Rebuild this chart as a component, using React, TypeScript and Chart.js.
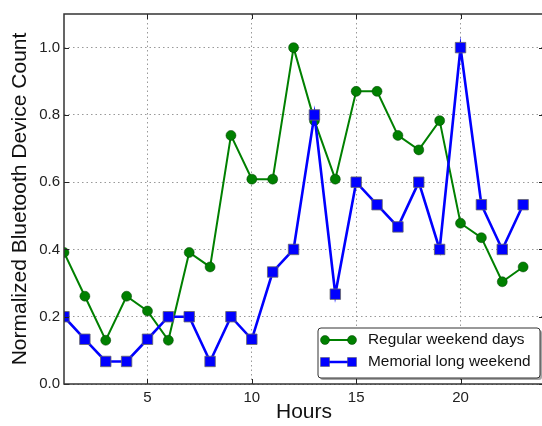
import React, { useEffect, useRef } from "react";
import { Chart, registerables } from "chart.js";

Chart.register(...registerables);

const hours = [1, 2, 3, 4, 5, 6, 7, 8, 9, 10, 11, 12, 13, 14, 15, 16, 17, 18, 19, 20, 21, 22, 23];
const regularWeekend = [0.391, 0.261, 0.13, 0.261, 0.217, 0.13, 0.391, 0.348, 0.739, 0.609, 0.609, 1.0, 0.783, 0.609, 0.87, 0.87, 0.739, 0.696, 0.783, 0.478, 0.435, 0.304, 0.348];
const memorialWeekend = [0.2, 0.133, 0.067, 0.067, 0.133, 0.2, 0.2, 0.067, 0.2, 0.133, 0.333, 0.4, 0.8, 0.267, 0.6, 0.533, 0.467, 0.6, 0.4, 1.0, 0.533, 0.4, 0.533];
const xTicks = [5, 10, 15, 20];
const yTicks = [0, 0.2, 0.4, 0.6, 0.8, 1.0];
const seriesNames = ["Regular weekend days", "Memorial long weekend"];

const FONT = "'Liberation Sans', Arial, Helvetica, sans-serif";

const framePlugin = {
  id: "frameAndLegend",
  afterDatasetsDraw(chart: any) {
    const { ctx, chartArea } = chart;
    const { left, right, top, bottom } = chartArea;
    ctx.save();
    ctx.strokeStyle = "#222";
    ctx.lineWidth = 1;
    const xs = chart.scales.x;
    const ys = chart.scales.y;
    ctx.beginPath();
    xTicks.forEach((t) => {
      const px = Math.round(xs.getPixelForValue(t)) + 0.5;
      ctx.moveTo(px, bottom);
      ctx.lineTo(px, bottom - 5);
      ctx.moveTo(px, top);
      ctx.lineTo(px, top + 5);
    });
    yTicks.forEach((t) => {
      const py = Math.round(ys.getPixelForValue(t)) + 0.5;
      ctx.moveTo(left, py);
      ctx.lineTo(left + 5, py);
      ctx.moveTo(right, py);
      ctx.lineTo(right - 5, py);
    });
    ctx.stroke();
    ctx.strokeStyle = "#333";
    ctx.lineWidth = 1.5;
    ctx.strokeRect(left, top, right - left, bottom - top);

    // legend
    const bx = 318, by = 328, bw = 222, bh = 50;
    const rr = (x: number, y: number, w: number, h: number, r: number) => {
      ctx.beginPath();
      ctx.moveTo(x + r, y);
      ctx.lineTo(x + w - r, y);
      ctx.quadraticCurveTo(x + w, y, x + w, y + r);
      ctx.lineTo(x + w, y + h - r);
      ctx.quadraticCurveTo(x + w, y + h, x + w - r, y + h);
      ctx.lineTo(x + r, y + h);
      ctx.quadraticCurveTo(x, y + h, x, y + h - r);
      ctx.lineTo(x, y + r);
      ctx.quadraticCurveTo(x, y, x + r, y);
      ctx.closePath();
    };
    ctx.fillStyle = "rgba(0,0,0,0.35)";
    rr(bx + 2, by + 2, bw, bh, 3);
    ctx.fill();
    ctx.fillStyle = "#fff";
    rr(bx, by, bw, bh, 3);
    ctx.fill();
    ctx.strokeStyle = "#333";
    ctx.lineWidth = 1;
    ctx.stroke();

    const rows = [
      { y: 340, color: "#008000", shape: "circle", lw: 2 },
      { y: 362, color: "#0000ff", shape: "rect", lw: 2.5 },
    ];
    rows.forEach((r, i) => {
      ctx.strokeStyle = r.color;
      ctx.lineWidth = r.lw;
      ctx.beginPath();
      ctx.moveTo(325, r.y);
      ctx.lineTo(352, r.y);
      ctx.stroke();
      [325, 352].forEach((mx) => {
        ctx.fillStyle = r.color;
        ctx.strokeStyle = r.shape === "circle" ? "#004000" : "#555";
        ctx.lineWidth = 0.5;
        ctx.beginPath();
        if (r.shape === "circle") ctx.arc(mx, r.y, 4.5, 0, Math.PI * 2);
        else ctx.rect(mx - 4.5, r.y - 4.5, 9, 9);
        ctx.fill();
        ctx.stroke();
      });
      ctx.fillStyle = "#111";
      ctx.font = `15.4px ${FONT}`;
      ctx.textBaseline = "middle";
      ctx.textAlign = "left";
      ctx.fillText(seriesNames[i], 368, r.y);
    });
    ctx.restore();
  },
};

export default function App() {
  const ref = useRef<HTMLCanvasElement | null>(null);
  useEffect(() => {
    if (!ref.current) return;
    const chart = new Chart(ref.current, {
      type: "line",
      data: {
        labels: hours,
        datasets: [
          {
            label: seriesNames[0],
            data: hours.map((h, i) => ({ x: h, y: regularWeekend[i] })),
            borderColor: "#008000",
            backgroundColor: "#008000",
            borderWidth: 2,
            pointStyle: "circle",
            pointRadius: 5,
            pointBorderColor: "#004000",
            pointBorderWidth: 0.5,
            pointBackgroundColor: "#008000",
            tension: 0,
            order: 1,
          },
          {
            label: seriesNames[1],
            data: hours.map((h, i) => ({ x: h, y: memorialWeekend[i] })),
            borderColor: "#0000ff",
            backgroundColor: "#0000ff",
            borderWidth: 2.6,
            pointStyle: "rect",
            pointRadius: 7.4,
            pointBorderColor: "#666",
            pointBorderWidth: 0.8,
            pointBackgroundColor: "#0000ff",
            tension: 0,
            order: 0,
          },
        ],
      },
      options: {
        animation: false,
        responsive: false,
        maintainAspectRatio: false,
        layout: { autoPadding: false, padding: { top: 14, left: 0, right: 0, bottom: 0 } },
        plugins: { legend: { display: false }, tooltip: { enabled: false } },
        scales: {
          x: {
            type: "linear",
            min: 1,
            max: 24,
            afterBuildTicks: (s: any) => {
              s.ticks = xTicks.map((v) => ({ value: v }));
            },
            afterFit: (s: any) => {
              s.height = 42;
              s.paddingLeft = 0;
              s.paddingRight = 0;
            },
            grid: { color: "#999", lineWidth: 1, drawTicks: false },
            border: { display: false, dash: [1.5, 3] },
            ticks: {
              padding: 5,
              color: "#222",
              font: { family: FONT, size: 15 },
              maxRotation: 0,
              callback: (v: any) => String(v),
            },
            title: {
              display: true,
              text: "Hours",
              color: "#111",
              font: { family: FONT, size: 21 },
              padding: { top: 0, bottom: 1 },
            },
          },
          y: {
            type: "linear",
            min: 0,
            max: 1.1,
            afterBuildTicks: (s: any) => {
              s.ticks = yTicks.map((v) => ({ value: v }));
            },
            afterFit: (s: any) => {
              s.width = 64;
              s.paddingTop = 0;
              s.paddingBottom = 0;
            },
            grid: { color: "#999", lineWidth: 1, drawTicks: false },
            border: { display: false, dash: [1.5, 3] },
            ticks: {
              padding: 4,
              color: "#222",
              font: { family: FONT, size: 15 },
              callback: (v: any) => Number(v).toFixed(1),
            },
            title: {
              display: true,
              text: "Normalized Bluetooth Device Count",
              color: "#111",
              font: { family: FONT, size: 21 },
              padding: { top: 8, bottom: 0 },
            },
          },
        },
      },
      plugins: [framePlugin],
    });
    return () => chart.destroy();
  }, []);
  return (
    <div style={{ position: "fixed", left: 0, top: 0, width: 542, height: 426, overflow: "hidden", background: "#fff" }}>
      <canvas ref={ref} width={544} height={426} style={{ display: "block", width: 544, height: 426 }} />
    </div>
  );
}
